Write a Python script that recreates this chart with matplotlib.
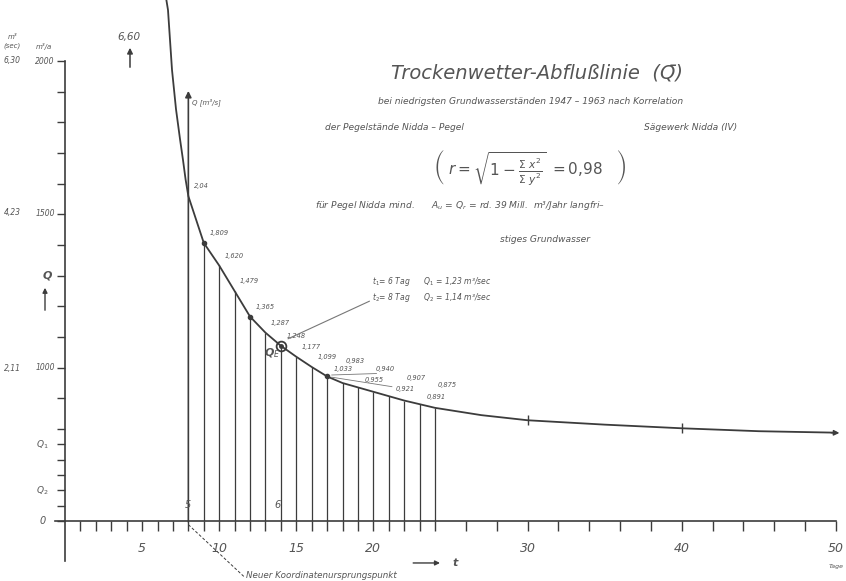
import matplotlib.pyplot as plt

W, H = 846, 581
ink = '#3c3c3c'
txt = '#555555'

# Kurvenkopf oberhalb des neuen Ursprungs (t < 8)
t_head = [6.45, 6.68, 6.81, 6.94, 7.2, 7.46, 7.65, 7.82]
q_head = [7.3, 7.0, 6.59, 6.18, 5.64, 5.23, 4.95, 4.68]

# Tageswerte t = 8 ... 24 (Ordinaten)
t_days = [8, 9, 10, 11, 12, 13, 14, 15, 16, 17, 18, 19, 20, 21, 22, 23, 24]
q_days = [4.45, 3.81, 3.50, 3.15, 2.80, 2.58, 2.40, 2.25, 2.11, 1.98, 1.89, 1.83,
          1.77, 1.71, 1.65, 1.60, 1.55]
q_text = ['2,04', '1,809', '1,620', '1,479', '1,365', '1,287', '1,248', '1,177', '1,099',
          '1,033', '0,983', '0,955', '0,940', '0,921', '0,907', '0,891', '0,875']

# Auslauf der Kurve
t_tail = [27, 30, 35, 40, 45, 50]
q_tail = [1.45, 1.38, 1.32, 1.27, 1.23, 1.21]

# Ordinatenteilung links
y_ticks = [0, .21, .42, .63, .84, 1.05, 1.26, 1.68, 2.10, 2.52, 2.94, 3.36, 3.78,
           4.20, 4.62, 5.04, 5.46, 5.88, 6.30]
x_ticks = list(range(1, 25)) + list(range(26, 51, 2))
x_labels = [5, 10, 15, 20, 30, 40, 50]


def P(x, y):
    return x / W, 1 - y / H


fig = plt.figure(figsize=(W / 100, H / 100), dpi=100)
ax = fig.add_axes([0, 0, 1, 1])
ax.set_xlim(-4.215, 50.65)
ax.set_ylim(-0.822, 7.137)

for s in ['top', 'right']:
    ax.spines[s].set_visible(False)
ax.spines['left'].set_position(('data', 0))
ax.spines['bottom'].set_position(('data', 0))
ax.spines['left'].set_bounds(-0.55, 6.30)
ax.spines['bottom'].set_bounds(-0.65, 50)
for s in ['left', 'bottom']:
    ax.spines[s].set_color(ink)
    ax.spines[s].set_linewidth(1.2)

ax.set_yticks(y_ticks)
ax.set_yticklabels([])
ax.tick_params(axis='y', direction='out', length=6, width=1, colors=ink)
ax.set_xticks(x_ticks)
ax.set_xticklabels([])
ax.tick_params(axis='x', direction='out', length=7, width=1, colors=ink)

# Kurve
t_all = t_head + t_days + t_tail
q_all = q_head + q_days + q_tail
ax.plot(t_all, q_all, color=ink, lw=1.3)
ax.annotate('', xy=(50.4, q_tail[-1] - 0.005), xytext=(49.5, q_tail[-1]),
            arrowprops=dict(arrowstyle='-|>', color=ink, lw=1, mutation_scale=8))
ax.plot([30, 40], [q_tail[1], q_tail[3]], ls='none', marker='|', ms=7, color=ink)

# Ordinaten
ax.vlines(t_days[1:], 0, q_days[1:], color=ink, lw=0.9)
ax.annotate('', xy=(8, 5.93), xytext=(8, -0.05),
            arrowprops=dict(arrowstyle='-|>', color=ink, lw=1.2, mutation_scale=9))
ax.plot([t_days[1], t_days[4], t_days[9]], [q_days[1], q_days[4], q_days[9]],
        ls='none', marker='o', ms=3, color=ink)
ax.plot(t_days[6], q_days[6], marker='o', ms=7, mfc='none', mec=ink, mew=1.3)
ax.plot(t_days[6], q_days[6], marker='o', ms=2.5, color=ink)

for i, (t, q, s) in enumerate(zip(t_days, q_days, q_text)):
    if t < 17:
        dx, dy = 4, 5
    else:
        dx, dy = (2, 14) if i % 2 == 0 else (5, 3)
    ax.annotate(s, (t, q), xytext=(dx, dy), textcoords='offset points', fontsize=4.8,
                style='italic', color=txt, ha='left', va='bottom')

# Beschriftungen Ordinatenachse
kw = dict(transform=ax.transAxes, color=txt, style='italic')
ax.text(*P(13, 37), 'm³', fontsize=5, ha='center', va='center', **kw)
ax.text(*P(12, 46), '(sec)', fontsize=5, ha='center', va='center', **kw)
ax.text(*P(44, 46), 'm³/a', fontsize=5, ha='center', va='center', **kw)
for y, a, b in [(61, '6,30', '2000'), (213, '4,23', '1500'), (368, '2,11', '1000')]:
    ax.text(*P(12, y), a, fontsize=5.5, ha='center', va='center', **kw)
    ax.text(*P(45, y), b, fontsize=5.5, ha='center', va='center', **kw)
ax.text(*P(42, 445), 'Q$_1$', fontsize=6.5, ha='center', va='center', **kw)
ax.text(*P(42, 491), 'Q$_2$', fontsize=6.5, ha='center', va='center', **kw)
ax.text(*P(43, 521), '0', fontsize=7, ha='center', va='center', **kw)
ax.text(*P(47, 276), 'Q', fontsize=8, ha='center', va='center', weight='bold', **kw)
ax.annotate('', xy=P(45, 285), xytext=P(45, 313), xycoords='axes fraction',
            textcoords='axes fraction',
            arrowprops=dict(arrowstyle='-|>', color=ink, lw=1, mutation_scale=7))
ax.text(*P(129, 37), '6,60', fontsize=7.5, ha='center', va='center', **kw)
ax.annotate('', xy=P(130, 45), xytext=P(130, 70), xycoords='axes fraction',
            textcoords='axes fraction',
            arrowprops=dict(arrowstyle='-|>', color=ink, lw=1.1, mutation_scale=8))
ax.text(*P(192, 102), 'Q [m³/s]', fontsize=5, ha='left', va='center', **kw)

# Beschriftungen Abszisse
for t in x_labels:
    ax.text(t, -0.37, str(t), fontsize=9, ha='center', va='center', color=txt,
            style='italic')
ax.text(50, -0.63, 'Tage', fontsize=4.5, ha='center', va='center', color=txt,
        style='italic')
ax.annotate('', xy=(24.5, -0.575), xytext=(22.4, -0.575),
            arrowprops=dict(arrowstyle='-|>', color=ink, lw=1, mutation_scale=7))
ax.text(25.3, -0.575, 't', fontsize=8, ha='center', va='center', color=txt,
        style='italic', weight='bold')
ax.text(8, 0.22, '5', fontsize=7, ha='center', va='center', color=txt, style='italic')
ax.text(13.8, 0.22, '6', fontsize=7, ha='center', va='center', color=txt, style='italic')
ax.plot([8, 11.6], [-0.05, -0.76], color=ink, lw=0.7, ls=(0, (3, 2)))
ax.text(*P(246, 575), 'Neuer Koordinatenursprungspunkt', fontsize=6.3, ha='left',
        va='center', **kw)

# Q_E und Hinweis
ax.text(*P(272, 353), 'Q$_E$', fontsize=8, ha='center', va='center', weight='bold', **kw)
ax.annotate('', xy=P(372, 300), xytext=(t_days[6] + 0.3, q_days[6] + 0.08),
            xycoords='axes fraction', textcoords='data',
            arrowprops=dict(arrowstyle='-', color='#777777', lw=0.8))
ax.text(*P(372, 281), 't$_1$= 6 Tag      Q$_1$ = 1,23 m³/sec', fontsize=5.5, ha='left',
        va='center', **kw)
ax.text(*P(372, 298), 't$_2$= 8 Tag      Q$_2$ = 1,14 m³/sec', fontsize=5.5, ha='left',
        va='center', **kw)
ax.plot([17.3, 20.2], [2.0, 2.02], color='#777777', lw=0.6)
ax.plot([17.3, 21.2], [1.97, 1.84], color='#777777', lw=0.6)

# Titelblock
ax.text(*P(537, 73), 'Trockenwetter-Abflußlinie  (Q̄)', fontsize=14, ha='center',
        va='center', **kw)
ax.text(*P(531, 102), 'bei niedrigsten Grundwasserständen 1947 – 1963 nach Korrelation',
        fontsize=6.6, ha='center', va='center', **kw)
ax.text(*P(325, 128), 'der Pegelstände Nidda – Pegel', fontsize=6.6, ha='left',
        va='center', **kw)
ax.text(*P(737, 128), 'Sägewerk Nidda (IV)', fontsize=6.6, ha='right', va='center', **kw)
ax.text(*P(530, 168), r'$\left(\ r = \sqrt{1-\frac{\Sigma\ x^2}{\Sigma\ y^2}}\ = 0{,}98\ \ \ \right)$',
        fontsize=11, ha='center', va='center', color=txt, transform=ax.transAxes)
ax.text(*P(315, 205), 'für Pegel Nidda mind.      A$_u$ = Q$_r$ = rd. 39 Mill.  m³/Jahr langfri–',
        fontsize=6.6, ha='left', va='center', **kw)
ax.text(*P(545, 240), 'stiges Grundwasser', fontsize=6.6, ha='center', va='center', **kw)

fig.savefig('out.png', dpi=100, facecolor='white')
